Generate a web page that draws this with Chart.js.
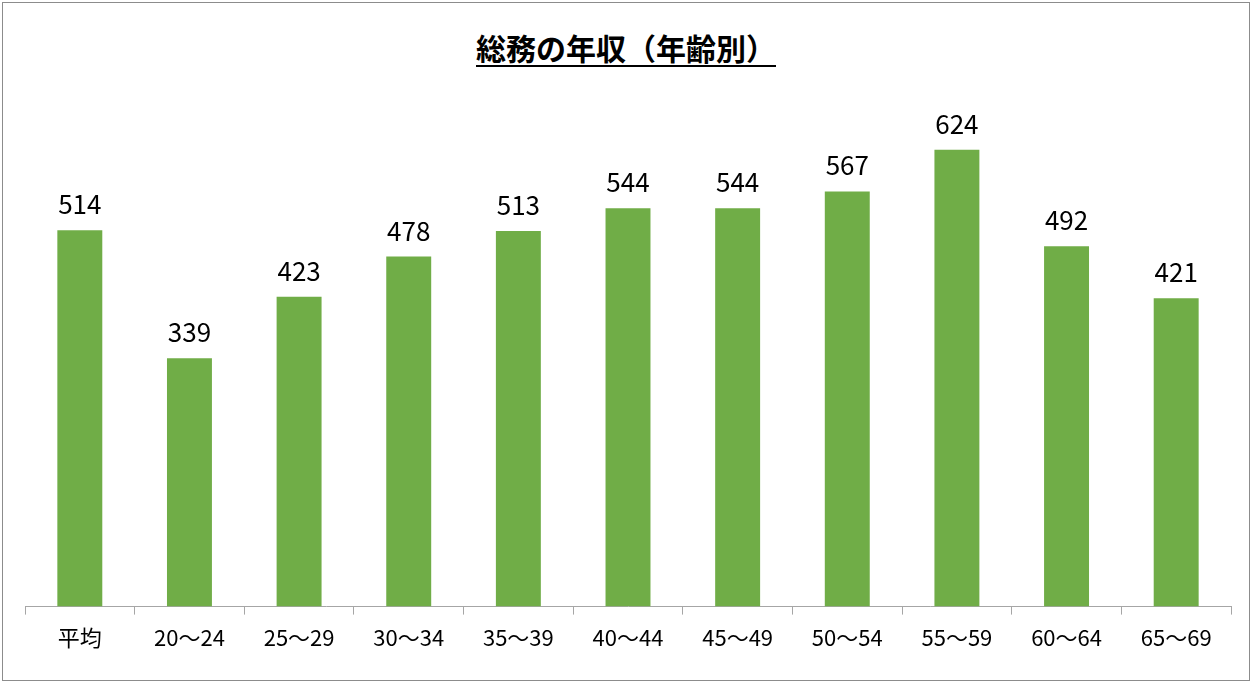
<!DOCTYPE html>
<html><head><meta charset="utf-8">
<script src="https://cdn.jsdelivr.net/npm/chart.js@4"></script>
<style>
html,body{margin:0;padding:0;background:#fff;}
#wrap{position:absolute;left:2px;top:2px;width:1246px;height:677px;border:1px solid #8c8c8c;}
#title{position:absolute;left:0;right:0;top:22px;text-align:center;font:bold 30px "Noto Sans CJK JP";text-decoration:underline;text-underline-offset:5px;text-decoration-thickness:2px;color:#000;}
canvas{position:absolute;left:0;top:0;}
</style></head><body>
<div id="wrap"><div id="title">総務の年収（年齢別）</div><canvas id="c" width="1246" height="677"></canvas></div>
<script>
const categories = ["平均","20〜24","25〜29","30〜34","35〜39","40〜44","45〜49","50〜54","55〜59","60〜64","65〜69"];
const salaries = [514,339,423,478,513,544,544,567,624,492,421];

const valueLabels = {
  id: "valueLabels",
  afterDatasetsDraw(chart) {
    const ctx = chart.ctx;
    const meta = chart.getDatasetMeta(0);
    ctx.save();
    ctx.font = '26px "Noto Sans CJK JP"';
    ctx.fillStyle = "#000";
    ctx.textAlign = "center";
    ctx.textBaseline = "alphabetic";
    meta.data.forEach((bar, i) => ctx.fillText(salaries[i], bar.x, bar.y - 16));
    ctx.restore();
  }
};

new Chart(document.getElementById("c").getContext("2d"), {
  type: "bar",
  data: { labels: categories, datasets: [{ data: salaries, backgroundColor: "#70ad47", categoryPercentage: 1, barPercentage: 0.41 }] },
  options: {
    responsive: false, animation: false,
    layout: { padding: { left: 22, right: 18, top: 91, bottom: 19 } },
    plugins: { legend: { display: false }, tooltip: { enabled: false } },
    scales: {
      y: { display: false, min: 0, max: 700 },
      x: {
        grid: { drawOnChartArea: false, tickLength: 8, color: "#a6a6a6", offset: true },
        border: { color: "#a6a6a6" },
        ticks: { color: "#000", font: { family: "Noto Sans CJK JP", size: 22 }, padding: 10, maxRotation: 0 }
      }
    }
  },
  plugins: [valueLabels]
});
</script>
</body></html>
